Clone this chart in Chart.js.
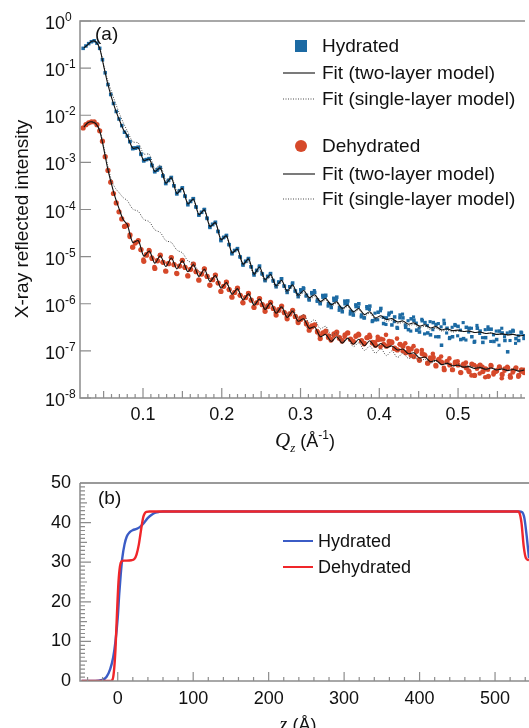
<!DOCTYPE html>
<html>
<head>
<meta charset="utf-8">
<script src="https://cdn.jsdelivr.net/npm/chart.js@4.4.1/dist/chart.umd.min.js"></script>
<style>
  html, body { margin: 0; padding: 0; background: #fff; overflow: hidden; }
  #wrapA { position: absolute; left: 0; top: 0; width: 529px; height: 460px; }
  #wrapB { position: absolute; left: 0; top: 460px; width: 529px; height: 268px; }
</style>
</head>
<body>
<div id="wrapA"><canvas id="chartA"></canvas></div>
<div id="wrapB"><canvas id="chartB"></canvas></div>
<script>
// ---- panel (a): reflectivity, values are log10(intensity) ----
const qLow = [0.025, 0.030, 0.035, 0.040, 0.045, 0.050, 0.055, 0.060, 0.065, 0.070, 0.075];
const qFringeStart = 0.080, qFringeStep = 0.007, qFringeCount = 73;
const qDataStart = 0.024, qDataStep = 0.0035, qDataCount = 161;
const qExtraStart = 0.083, qExtraStep = 0.0035, qExtraCount = 144;

const hydFitLog = [
  -0.57, -0.50, -0.43, -0.44, -0.58, -0.95, -1.32, -1.62, -1.88, -2.10, -2.30,
  -2.43, -2.70, -2.69, -2.96, -2.93, -3.19, -3.12, -3.44, -3.33, -3.66,
  -3.55, -3.88, -3.78, -4.11, -4.01, -4.36, -4.28, -4.64, -4.56, -4.92,
  -4.84, -5.16, -5.05, -5.37, -5.22, -5.49, -5.38, -5.62, -5.50, -5.73,
  -5.60, -5.82, -5.72, -5.87, -5.81, -5.95, -5.89, -6.02, -5.96, -6.10,
  -6.03, -6.17, -6.10, -6.23, -6.17, -6.30, -6.255, -6.335, -6.315, -6.385,
  -6.365, -6.435, -6.405, -6.475, -6.445, -6.515, -6.485, -6.555, -6.53, -6.57,
  -6.56, -6.59, -6.58, -6.61, -6.60, -6.63, -6.62, -6.65, -6.64, -6.66,
  -6.65, -6.68, -6.67
];
const hydOneLog = [
  -0.57, -0.50, -0.43, -0.44, -0.58, -0.92, -1.25, -1.50, -1.74, -1.96, -2.16,
  -2.33, -2.56, -2.59, -2.82, -2.83, -3.13, -3.06, -3.38, -3.31, -3.60,
  -3.57, -3.86, -3.80, -4.09, -4.03, -4.34, -4.30, -4.62, -4.58, -4.90,
  -4.86, -5.18, -5.11, -5.39, -5.28, -5.53, -5.42, -5.66, -5.54, -5.77,
  -5.64, -5.86, -5.76, -5.91, -5.85, -5.98, -5.92, -6.05, -5.99, -6.13,
  -6.06, -6.20, -6.13, -6.26, -6.20, -6.33, -6.29, -6.37, -6.35, -6.42,
  -6.40, -6.47, -6.44, -6.51, -6.48, -6.55, -6.52, -6.58, -6.56, -6.60,
  -6.58, -6.59, -6.58, -6.61, -6.60, -6.63, -6.62, -6.65, -6.64, -6.66,
  -6.65, -6.68, -6.67
];
const dehFitLog = [
  -2.25, -2.16, -2.14, -2.18, -2.33, -2.70, -3.12, -3.46, -3.76, -4.00, -4.22,
  -4.32, -4.70, -4.66, -4.99, -4.88, -5.14, -4.98, -5.21, -5.03, -5.26,
  -5.09, -5.32, -5.17, -5.42, -5.27, -5.53, -5.40, -5.67, -5.55, -5.80,
  -5.68, -5.92, -5.79, -6.03, -5.90, -6.12, -5.98, -6.20, -6.07, -6.29,
  -6.16, -6.37, -6.32, -6.52, -6.49, -6.70, -6.65, -6.80, -6.70, -6.835,
  -6.73, -6.86, -6.755, -6.89, -6.785, -6.92, -6.845, -6.93, -6.895, -6.98,
  -6.96, -7.06, -7.04, -7.15, -7.13, -7.23, -7.20, -7.29, -7.265, -7.315,
  -7.305, -7.345, -7.335, -7.375, -7.355, -7.39, -7.365, -7.405, -7.385, -7.42,
  -7.395, -7.43, -7.405
];
const dehOneLog = [
  -2.25, -2.16, -2.13, -2.16, -2.30, -2.65, -3.05, -3.38, -3.55, -3.65, -3.75,
  -3.81, -3.99, -4.04, -4.21, -4.26, -4.43, -4.49, -4.66, -4.70, -4.86,
  -4.92, -5.09, -5.14, -5.31, -5.33, -5.47, -5.43, -5.64, -5.57, -5.78,
  -5.70, -5.90, -5.81, -6.00, -5.90, -6.08, -5.98, -6.15, -6.05, -6.23,
  -6.13, -6.30, -6.23, -6.40, -6.34, -6.53, -6.48, -6.67, -6.62, -6.80,
  -6.74, -6.91, -6.83, -6.99, -6.90, -7.05, -6.95, -7.10, -7.00, -7.14,
  -7.05, -7.16, -7.13, -7.21, -7.18, -7.26, -7.22, -7.30, -7.25, -7.33,
  -7.28, -7.335, -7.315, -7.355, -7.335, -7.375, -7.355, -7.395, -7.365, -7.405,
  -7.375, -7.415, -7.385
];
const hydDataLog = [
  -0.58, -0.53, -0.48, -0.44, -0.42, -0.47, -0.58, -0.82, -1.10, -1.35, -1.56, -1.75, -1.92, -2.08, -2.22, -2.36,
  -2.44, -2.56, -2.71, -2.70, -2.68, -2.83, -2.97, -2.94, -2.92, -3.07,
  -3.20, -3.15, -3.11, -3.29, -3.45, -3.38, -3.32, -3.50, -3.67, -3.60,
  -3.54, -3.72, -3.90, -3.83, -3.77, -3.95, -4.12, -4.06, -4.00, -4.19,
  -4.38, -4.32, -4.27, -4.47, -4.66, -4.59, -4.55, -4.75, -4.94, -4.87,
  -4.83, -5.01, -5.18, -5.10, -5.04, -5.22, -5.39, -5.29, -5.20, -5.37,
  -5.51, -5.42, -5.36, -5.52, -5.64, -5.54, -5.47, -5.63, -5.76, -5.64,
  -5.56, -5.73, -5.85, -5.74, -5.68, -5.82, -5.92, -5.79, -5.76, -5.92,
  -6.00, -5.86, -5.82, -6.00, -6.08, -5.93, -5.86, -6.08, -6.17, -6.00,
  -5.94, -6.16, -6.24, -6.06, -6.00, -6.24, -6.30, -6.10, -6.05, -6.36,
  -6.34, -6.18, -6.10, -6.42, -6.30, -6.20, -6.45, -6.28, -6.52, -6.24,
  -6.30, -6.50, -6.55, -6.32, -6.35, -6.56, -6.60, -6.36, -6.40, -6.62,
  -6.66, -6.40, -6.44, -6.70, -6.88, -6.42, -6.52, -6.72, -6.70, -6.46,
  -6.48, -6.76, -6.74, -6.50, -6.52, -6.70, -6.80, -6.52, -6.58, -6.82,
  -6.72, -6.54, -6.54, -6.80, -6.76, -6.58, -6.62, -6.78, -7.02, -6.60,
  -6.58, -6.74, -6.78, -6.62, -6.68
];
const hydExtraLog = [
  -2.56, -2.69, -2.69, -2.68, -2.82, -2.95, -2.94, -2.92, -3.05, -3.19,
  -3.17, -3.12, -3.28, -3.44, -3.39, -3.33, -3.49, -3.65, -3.60, -3.55,
  -3.71, -3.88, -3.82, -3.77, -3.94, -4.11, -4.06, -4.00, -4.18, -4.36,
  -4.31, -4.28, -4.46, -4.64, -4.60, -4.56, -4.74, -4.92, -4.87, -4.84,
  -5.00, -5.16, -5.10, -5.05, -5.21, -5.36, -5.30, -5.22, -5.36,
  -5.49, -5.42, -5.37, -5.50, -5.61, -5.54, -5.47, -5.62, -5.72, -5.64,
  -5.58, -5.73, -5.80, -5.70, -5.66, -5.84, -5.90, -5.76, -5.72, -5.95,
  -5.98, -5.82, -5.86, -6.05, -6.02, -5.88, -5.92, -6.14, -6.10, -5.94,
  -6.00, -6.22, -6.18, -6.02, -6.07, -6.28, -6.30, -6.06, -6.12, -6.38,
  -6.20, -6.34, -6.15, -6.29, -6.44, -6.24, -6.18, -6.38, -6.50, -6.30,
  -6.22, -6.45, -6.36, -6.58, -6.28, -6.41, -6.52, -6.33, -6.64, -6.46,
  -6.38, -6.55, -6.70, -6.42, -6.49, -6.35, -6.62, -6.74, -6.50, -6.44,
  -6.68, -6.56, -6.40, -6.77, -6.60, -6.52, -6.82, -6.46, -6.63, -6.72,
  -6.55, -6.49, -6.80, -6.66, -6.58, -6.88, -6.52, -6.70, -6.62, -6.78,
  -6.56, -6.84, -6.68, -6.60, -6.74
];
const dehDataLog = [
  -2.27, -2.20, -2.16, -2.14, -2.14, -2.20, -2.33, -2.55, -2.88, -3.17, -3.42, -3.66, -3.86, -4.05, -4.20, -4.36,
  -4.33, -4.54, -4.80, -4.70, -4.66, -4.85, -5.10, -4.97, -4.88, -5.04,
  -5.25, -5.09, -4.97, -5.12, -5.31, -5.15, -5.02, -5.17, -5.36, -5.20,
  -5.08, -5.23, -5.41, -5.27, -5.16, -5.32, -5.50, -5.37, -5.26, -5.42,
  -5.61, -5.49, -5.39, -5.56, -5.74, -5.63, -5.54, -5.70, -5.86, -5.76,
  -5.67, -5.82, -5.98, -5.87, -5.78, -5.92, -6.08, -5.98, -5.89, -6.02,
  -6.16, -6.06, -5.97, -6.10, -6.24, -6.14, -6.05, -6.19, -6.32, -6.22,
  -6.14, -6.27, -6.40, -6.33, -6.28, -6.43, -6.56, -6.49, -6.45, -6.60,
  -6.74, -6.62, -6.58, -6.68, -6.76, -6.64, -6.60, -6.72, -6.78, -6.66,
  -6.62, -6.75, -6.80, -6.68, -6.66, -6.78, -6.84, -6.72, -6.70, -6.82,
  -6.88, -6.76, -6.75, -6.86, -6.90, -6.80, -6.82, -6.94, -6.98, -6.86,
  -6.90, -7.04, -7.02, -6.96, -7.12, -7.00, -7.20, -7.06, -7.10, -7.26,
  -7.20, -7.14, -7.32, -7.18, -7.24, -7.40, -7.22, -7.30, -7.40, -7.24,
  -7.30, -7.46, -7.28, -7.36, -7.44, -7.28, -7.52, -7.34, -7.30, -7.44,
  -7.38, -7.54, -7.32, -7.46, -7.42, -7.34, -7.50, -7.38, -7.36, -7.56,
  -7.42, -7.36, -7.52, -7.40, -7.46
];
const dehExtraLog = [
  -4.58, -4.80, -4.72, -4.68, -4.86, -5.06, -4.95, -4.86, -5.02, -5.22,
  -5.08, -4.97, -5.12, -5.30, -5.14, -5.02, -5.17, -5.35, -5.20, -5.08,
  -5.23, -5.40, -5.27, -5.16, -5.32, -5.49, -5.37, -5.26, -5.42, -5.60,
  -5.49, -5.39, -5.56, -5.73, -5.63, -5.54, -5.70, -5.85, -5.76, -5.67,
  -5.82, -5.97, -5.87, -5.78, -5.93, -6.07, -5.98, -5.89, -6.02,
  -6.11, -6.04, -5.99, -6.10, -6.19, -6.12, -6.07, -6.18, -6.28, -6.21,
  -6.16, -6.28, -6.36, -6.30, -6.28, -6.40, -6.50, -6.46, -6.45, -6.58,
  -6.68, -6.62, -6.60, -6.72, -6.78, -6.68, -6.64, -6.74, -6.80, -6.70,
  -6.62, -6.76, -6.82, -6.70, -6.64, -6.80, -6.86, -6.72, -6.66, -6.84,
  -6.82, -6.70, -6.92, -6.76, -6.66, -6.88, -6.80, -6.96, -6.74, -6.86,
  -7.00, -6.84, -6.94, -7.10, -6.90, -7.02, -7.18, -6.98, -7.08, -7.26,
  -7.14, -7.06, -7.30, -7.20, -7.12, -7.36, -7.24, -7.16, -7.40, -7.28,
  -7.22, -7.46, -7.32, -7.25, -7.42, -7.52, -7.30, -7.38, -7.48, -7.34,
  -7.56, -7.40, -7.30, -7.50, -7.44, -7.36, -7.58, -7.42, -7.34, -7.52,
  -7.46, -7.38, -7.55, -7.44, -7.40
];
const qTickLabels = [0.1, 0.2, 0.3, 0.4, 0.5];
const yExponents = [0, -1, -2, -3, -4, -5, -6, -7, -8];

// ---- panel (b): electron density profiles ----
const zHyd = [-48, -30, -22, -15, -10, -6, -3, 0, 2, 4, 6, 9, 12, 16, 20, 25, 30, 35, 40, 45,
  50, 55, 60, 100, 200, 300, 400, 500, 532, 536, 539, 542, 545];
const sldHyd = [0, 0, 0.2, 1, 3, 6, 10, 16, 22, 27, 31, 34.5, 36.5, 37.6, 38.1, 38.4, 39, 40, 41.2, 42,
  42.5, 42.7, 42.8, 42.8, 42.8, 42.8, 42.8, 42.8, 42.8, 42.6, 41, 36.5, 31];
const zDeh = [-48, -10, -7, -5, -3, -1, 1, 3, 5, 8, 12, 18, 22, 25, 28, 30, 32, 34, 36, 38,
  42, 50, 100, 200, 300, 400, 500, 530, 532, 535, 538, 541, 545];
const sldDeh = [0, 0, 0.3, 2.5, 8, 17, 25, 29, 30.2, 30.4, 30.4, 30.5, 30.8, 32, 34.5, 37, 39.5, 41.5, 42.4, 42.7,
  42.8, 42.8, 42.8, 42.8, 42.8, 42.8, 42.8, 42.8, 42.6, 40, 34, 31, 30.5];
const zTickLabels = [0, 100, 200, 300, 400, 500];
const sldTickLabels = [0, 10, 20, 30, 40, 50];

const SANS = '"Liberation Sans", Arial, Helvetica, sans-serif';
const SERIF = '"Liberation Serif", "Times New Roman", serif';
const AXIS = '#8c8c8c';
const HYD = '#1c6aa3';
const DEH = '#d6492a';
const FIT = '#111111';
const ONE = '#4a4a4a';
const BLUE_B = '#3b5cc6';
const RED_B = '#f0262a';

function grid(start, step, n) {
  const out = [];
  for (let i = 0; i < n; i++) out.push(+(start + step * i).toFixed(5));
  return out;
}
const qFit = qLow.concat(grid(qFringeStart, qFringeStep, qFringeCount));
const qData = grid(qDataStart, qDataStep, qDataCount);
const qExtra = grid(qExtraStart, qExtraStep, qExtraCount);

function pts(xs, logs) {
  return xs.map((x, i) => ({ x: x, y: Math.pow(10, logs[i]) }));
}
function xy(xs, ys) {
  return xs.map((x, i) => ({ x: x, y: ys[i] }));
}

// draw a run of text pieces (for italics, sub- and superscripts)
function drawRich(ctx, parts, x, y, align) {
  let total = 0;
  parts.forEach(p => { ctx.font = p.font; p.w = ctx.measureText(p.text).width; total += p.w; });
  let cx = align === 'center' ? x - total / 2 : x;
  ctx.textBaseline = 'alphabetic';
  ctx.textAlign = 'left';
  parts.forEach(p => {
    ctx.font = p.font;
    ctx.fillText(p.text, cx, y + (p.dy || 0));
    cx += p.w;
  });
}

const decorA = {
  id: 'decorA',
  afterDraw(chart) {
    const { ctx, chartArea: a, scales: { x, y } } = chart;
    ctx.save();
    ctx.strokeStyle = AXIS;
    ctx.lineWidth = 1.5;
    ctx.beginPath();
    ctx.moveTo(a.right, a.top); ctx.lineTo(a.left, a.top);
    ctx.lineTo(a.left, a.bottom); ctx.lineTo(a.right, a.bottom);
    ctx.stroke();

    ctx.lineWidth = 1.2;
    ctx.beginPath();
    for (let k = 3; k <= 58; k++) {
      const px = x.getPixelForValue(k / 100);
      const len = k % 10 === 0 ? 10 : (k % 5 === 0 ? 7 : 4);
      ctx.moveTo(px, a.bottom); ctx.lineTo(px, a.bottom - len);
    }
    yExponents.forEach(e => {
      const py = y.getPixelForValue(Math.pow(10, e));
      ctx.moveTo(a.left, py); ctx.lineTo(a.left + 11, py);
    });
    ctx.stroke();

    ctx.fillStyle = '#111';
    yExponents.forEach(e => {
      const py = y.getPixelForValue(Math.pow(10, e));
      drawRich(ctx, [
        { text: '10', font: '18px ' + SANS },
        { text: String(e), font: '12px ' + SANS, dy: -8 }
      ], 45, py + 8, 'left');
    });

    // axis titles
    drawRich(ctx, [
      { text: 'Q', font: 'italic 21px ' + SERIF },
      { text: 'z', font: 'italic 13px ' + SERIF, dy: 5 },
      { text: ' (Å', font: '18px ' + SANS },
      { text: '-1', font: '12px ' + SANS, dy: -8 },
      { text: ')', font: '18px ' + SANS }
    ], 275, 447, 'left');
    ctx.save();
    ctx.translate(28, 219);
    ctx.rotate(-Math.PI / 2);
    drawRich(ctx, [{ text: 'X-ray reflected intensity', font: '19px ' + SANS }], 0, 0, 'center');
    ctx.restore();

    ctx.font = '19px ' + SANS;
    ctx.fillText('(a)', 95, 40);

    // legend
    const lx = 322;
    ctx.font = '19px ' + SANS;
    ctx.textBaseline = 'middle';
    const rows = [
      { y: 46, kind: 'rect', text: 'Hydrated' },
      { y: 73, kind: 'solid', text: 'Fit (two-layer model)' },
      { y: 99, kind: 'dot', text: 'Fit (single-layer model)' },
      { y: 146, kind: 'circle', text: 'Dehydrated' },
      { y: 174, kind: 'solid', text: 'Fit (two-layer model)' },
      { y: 199, kind: 'dot', text: 'Fit (single-layer model)' }
    ];
    rows.forEach(r => {
      if (r.kind === 'rect') {
        ctx.fillStyle = HYD;
        ctx.fillRect(295, r.y - 6, 12, 12);
      } else if (r.kind === 'circle') {
        ctx.fillStyle = DEH;
        ctx.beginPath(); ctx.arc(301, r.y, 6, 0, Math.PI * 2); ctx.fill();
      } else {
        ctx.strokeStyle = r.kind === 'solid' ? '#333' : ONE;
        ctx.lineWidth = r.kind === 'solid' ? 1.3 : 1;
        ctx.setLineDash(r.kind === 'solid' ? [] : [1, 1.5]);
        ctx.beginPath(); ctx.moveTo(283, r.y); ctx.lineTo(315, r.y); ctx.stroke();
        ctx.setLineDash([]);
      }
      ctx.fillStyle = '#111';
      ctx.textAlign = 'left';
      ctx.fillText(r.text, lx, r.y + 1);
    });
    ctx.restore();
  }
};

const decorB = {
  id: 'decorB',
  afterDraw(chart) {
    const { ctx, chartArea: a, scales: { x, y } } = chart;
    ctx.save();
    ctx.strokeStyle = '#9a9a9a';
    ctx.lineWidth = 2;
    ctx.beginPath(); ctx.moveTo(a.left, a.top); ctx.lineTo(a.right, a.top); ctx.stroke();
    ctx.strokeStyle = AXIS;
    ctx.lineWidth = 1.5;
    ctx.beginPath();
    ctx.moveTo(a.left, a.top); ctx.lineTo(a.left, a.bottom); ctx.lineTo(a.right, a.bottom);
    ctx.stroke();

    ctx.lineWidth = 1.2;
    ctx.beginPath();
    for (let v = -40; v <= 540; v += 20) {
      const px = x.getPixelForValue(v);
      const len = v % 100 === 0 ? 9 : 4;
      ctx.moveTo(px, a.bottom); ctx.lineTo(px, a.bottom - len);
    }
    for (let v = 1; v <= 49; v++) {
      const py = y.getPixelForValue(v);
      const len = v % 10 === 0 ? 11 : (v % 5 === 0 ? 7 : 5);
      ctx.moveTo(a.left, py); ctx.lineTo(a.left + len, py);
    }
    ctx.stroke();

    ctx.fillStyle = '#111';
    ctx.save();
    ctx.translate(30, 580);
    ctx.rotate(-Math.PI / 2);
    drawRich(ctx, [
      { text: 'e', font: 'italic 18px ' + SANS },
      { text: 'SLD (10', font: '18px ' + SANS },
      { text: '-6', font: '12px ' + SANS, dy: -8 },
      { text: ' Å', font: '18px ' + SANS },
      { text: '-2', font: '12px ' + SANS, dy: -8 },
      { text: ')', font: '18px ' + SANS }
    ], 0, 0, 'center');
    ctx.restore();
    drawRich(ctx, [
      { text: 'z', font: 'italic 20px ' + SERIF },
      { text: ' (Å)', font: '18px ' + SANS }
    ], 298, 271, 'center');

    ctx.font = '19px ' + SANS;
    ctx.fillText('(b)', 98, 44);

    ctx.font = '18px ' + SANS;
    ctx.textBaseline = 'middle';
    [{ y: 81, c: BLUE_B, t: 'Hydrated' }, { y: 107, c: RED_B, t: 'Dehydrated' }].forEach(r => {
      ctx.strokeStyle = r.c; ctx.lineWidth = 2;
      ctx.beginPath(); ctx.moveTo(283, r.y); ctx.lineTo(313, r.y); ctx.stroke();
      ctx.fillStyle = '#111';
      ctx.fillText(r.t, 318, r.y + 1);
    });
    ctx.restore();
  }
};

const fitBase = { showLine: true, pointRadius: 0, tension: 0.3, fill: false };
const profBase = { showLine: true, pointRadius: 0, cubicInterpolationMode: 'monotone', fill: false };

new Chart(document.getElementById('chartA'), {
  type: 'scatter',
  data: {
    datasets: [
      Object.assign({ label: 'Fit (two-layer model)', data: pts(qFit, hydFitLog), borderColor: FIT, borderWidth: 1.1, order: 1 }, fitBase),
      Object.assign({ label: 'Fit (two-layer model)', data: pts(qFit, dehFitLog), borderColor: FIT, borderWidth: 1.1, order: 2 }, fitBase),
      Object.assign({ label: 'Fit (single-layer model)', data: pts(qFit, hydOneLog), borderColor: ONE, borderWidth: 1, borderDash: [1, 1.5], order: 3 }, fitBase),
      Object.assign({ label: 'Fit (single-layer model)', data: pts(qFit, dehOneLog), borderColor: ONE, borderWidth: 1, borderDash: [1, 1.5], order: 4 }, fitBase),
      { label: 'Hydrated', data: pts(qData, hydDataLog), pointStyle: 'rect', pointRadius: 2.5, backgroundColor: HYD, borderWidth: 0, order: 5 },
      { label: 'Hydrated', data: pts(qExtra, hydExtraLog), pointStyle: 'rect', pointRadius: 2.2, backgroundColor: HYD, borderWidth: 0, order: 6 },
      { label: 'Dehydrated', data: pts(qData, dehDataLog), pointStyle: 'circle', pointRadius: 2.6, backgroundColor: DEH, borderWidth: 0, order: 7 },
      { label: 'Dehydrated', data: pts(qExtra, dehExtraLog), pointStyle: 'circle', pointRadius: 2.3, backgroundColor: DEH, borderWidth: 0, order: 8 }
    ]
  },
  options: {
    responsive: true,
    maintainAspectRatio: false,
    animation: false,
    layout: { padding: { top: 21, left: 0, right: 0, bottom: 0 } },
    plugins: { legend: { display: false }, tooltip: { enabled: false } },
    scales: {
      x: {
        type: 'linear', min: 0.02, max: 0.585,
        afterFit(s) { s.height = 62; },
        afterBuildTicks(s) { s.ticks = qTickLabels.map(v => ({ value: v })); },
        grid: { display: false, drawTicks: false },
        border: { display: false },
        ticks: { autoSkip: false, maxRotation: 0, padding: 6, color: '#111', font: { family: SANS, size: 18 },
          callback: v => v.toFixed(1) }
      },
      y: {
        type: 'logarithmic', min: 1e-8, max: 1,
        afterFit(s) { s.width = 80; },
        grid: { display: false, drawTicks: false },
        border: { display: false },
        ticks: { display: false }
      }
    }
  },
  plugins: [decorA]
});

new Chart(document.getElementById('chartB'), {
  type: 'scatter',
  data: {
    datasets: [
      Object.assign({ label: 'Hydrated', data: xy(zHyd, sldHyd), borderColor: BLUE_B, borderWidth: 2.4, order: 2 }, profBase),
      Object.assign({ label: 'Dehydrated', data: xy(zDeh, sldDeh), borderColor: RED_B, borderWidth: 2.4, order: 1 }, profBase)
    ]
  },
  options: {
    responsive: true,
    maintainAspectRatio: false,
    animation: false,
    layout: { padding: { top: 23, left: 0, right: 0, bottom: 0 } },
    plugins: { legend: { display: false }, tooltip: { enabled: false } },
    scales: {
      x: {
        type: 'linear', min: -50, max: 545,
        afterFit(s) { s.height = 47; },
        afterBuildTicks(s) { s.ticks = zTickLabels.map(v => ({ value: v })); },
        grid: { display: false, drawTicks: false },
        border: { display: false },
        ticks: { autoSkip: false, maxRotation: 0, padding: 7, color: '#111', font: { family: SANS, size: 18 } }
      },
      y: {
        type: 'linear', min: 0, max: 50,
        afterFit(s) { s.width = 80; },
        afterBuildTicks(s) { s.ticks = sldTickLabels.map(v => ({ value: v })); },
        grid: { display: false, drawTicks: false },
        border: { display: false },
        ticks: { autoSkip: false, padding: 9, color: '#111', font: { family: SANS, size: 18 } }
      }
    }
  },
  plugins: [decorB]
});
</script>
</body>
</html>
